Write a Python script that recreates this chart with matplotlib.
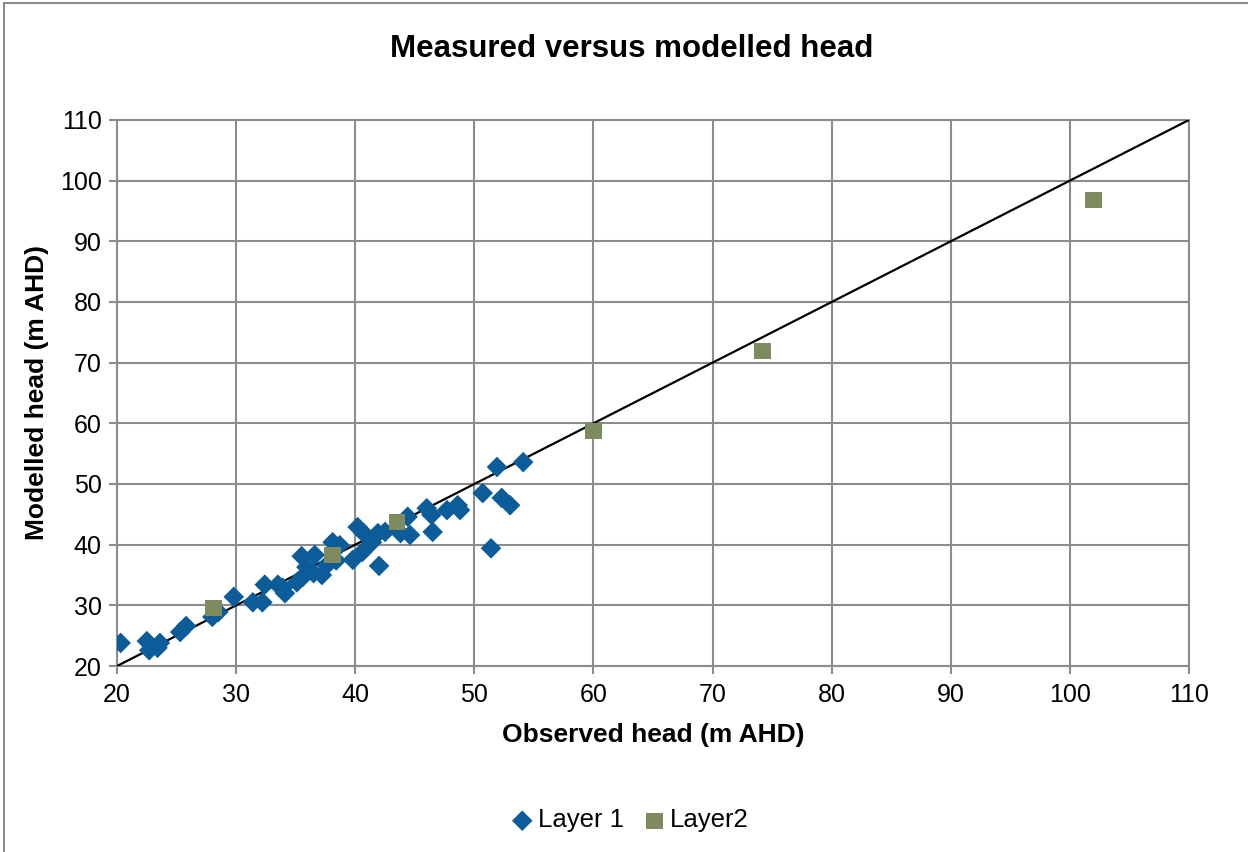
import matplotlib
matplotlib.use("Agg")
import matplotlib.pyplot as plt
from matplotlib.patches import Rectangle

plt.rcParams['font.family'] = ['Liberation Sans', 'DejaVu Sans']

# Layer 1 observed / modelled heads (m AHD)
layer1_obs = [20.3, 22.5, 22.7, 23.6, 23.4, 25.3, 25.8, 28.0, 28.5, 29.8,
              31.4, 32.2, 32.4, 33.5, 34.1, 33.9, 35.1, 35.5, 35.6, 35.9,
              36.6, 36.5, 37.2, 38.1, 38.7, 39.8, 40.6, 40.2, 40.7, 41.4,
              41.9, 42.0, 42.5, 43.8, 44.6, 44.4, 46.0, 46.4, 46.5, 47.7,
              48.6, 48.8, 50.7, 51.4, 51.9, 52.3, 53.0, 54.1, 37.6, 38.4]
layer1_mod = [23.8, 24.1, 22.6, 23.8, 23.0, 25.6, 26.6, 28.1, 28.9, 31.4,
              30.5, 30.5, 33.4, 33.4, 32.0, 32.9, 33.8, 38.1, 34.7, 36.3,
              38.3, 35.3, 35.0, 40.4, 39.9, 37.5, 38.8, 42.9, 41.9, 40.4,
              41.9, 36.5, 42.1, 41.9, 41.6, 44.6, 46.0, 44.9, 42.1, 45.7,
              46.5, 45.7, 48.5, 39.4, 52.8, 47.7, 46.5, 53.6, 36.6, 37.4]

# Layer2
layer2_obs = [28.1, 38.1, 43.5, 60.0, 74.2, 102.0]
layer2_mod = [29.6, 38.3, 43.7, 58.7, 71.9, 96.8]

one_to_one = [20, 110]
ticks = list(range(20, 111, 10))

fig = plt.figure(figsize=(12.48, 8.52), dpi=100)
ax = fig.add_axes([0.0938, 0.2183, 0.8589, 0.6409])

fig.patches.append(Rectangle((4 / 1248, -0.01), 1.05, 1 - 3 / 852 + 0.01,
                             transform=fig.transFigure, fill=False,
                             edgecolor='#8c8c8c', linewidth=1.5, zorder=0))

ax.plot(one_to_one, one_to_one, color='black', linewidth=1.6, zorder=3)
ax.scatter(layer1_obs, layer1_mod, marker='D', s=110, color='#0B5C99',
           edgecolors='none', label='Layer 1', zorder=4)
ax.scatter(layer2_obs, layer2_mod, marker='s', s=140, color='#7E8B5F',
           edgecolors='none', label='Layer2', zorder=5)

ax.set_xlim(20, 110)
ax.set_ylim(20, 110)
ax.set_xticks(ticks)
ax.set_yticks(ticks)
ax.grid(True, color='#8c8c8c', linewidth=1.5)
ax.set_axisbelow(True)
for sp in ax.spines.values():
    sp.set_color('#8c8c8c')
    sp.set_linewidth(1.5)
ax.tick_params(axis='both', direction='out', length=6, width=1.5,
               color='#8c8c8c', labelsize=18)
ax.tick_params(axis='x', pad=6)
ax.tick_params(axis='y', pad=5)

ax.set_xlabel('Observed head (m AHD)', fontsize=19, fontweight='bold', labelpad=12)
ax.set_ylabel('Modelled head (m AHD)', fontsize=19, fontweight='bold', labelpad=8)
fig.text(0.506, 0.943, 'Measured versus modelled head', ha='center', va='center',
         fontsize=22.5, fontweight='bold')

fig.legend(loc='center', bbox_to_anchor=(0.503, 0.037), ncol=2, frameon=False,
           fontsize=18.5, handletextpad=0.0, columnspacing=0.6,
           handlelength=1.2, markerscale=1.0)

fig.savefig('out.png', dpi=100)
